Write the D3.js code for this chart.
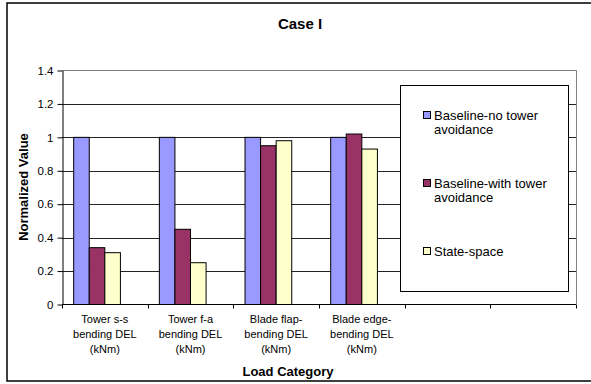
<!DOCTYPE html>
<html>
<head>
<meta charset="utf-8">
<script src="https://cdn.jsdelivr.net/npm/d3@7"></script>
<style>
  body { margin: 0; background: #fff; }
  svg { display: block; font-family: "Liberation Sans", Arial, sans-serif; }
</style>
</head>
<body>
<div id="chart"></div>
<script>
// Data
const categories = [
    ["Tower s-s", "bending DEL", "(kNm)"],
    ["Tower f-a", "bending DEL", "(kNm)"],
    ["Blade flap-", "bending DEL", "(kNm)"],
    ["Blade edge-", "bending DEL", "(kNm)"],
    [],
    []
];
const seriesNames = [
    ["Baseline-no tower", "avoidance"],
    ["Baseline-with tower", "avoidance"],
    ["State-space"]
];
const noAvoidance = [1, 1, 1, 1];
const withAvoidance = [0.34, 0.45, 0.95, 1.02];
const stateSpace = [0.31, 0.25, 0.98, 0.93];
const yTicks = [0, 0.2, 0.4, 0.6, 0.8, 1, 1.2, 1.4];

const seriesValues = [noAvoidance, withAvoidance, stateSpace];
const colors = ["#9999FF", "#993366", "#FFFFCC"];

const width = 591;
const height = 384;

const svg = d3.select("#chart")
    .append("svg")
    .attr("width", width)
    .attr("height", height);

// Chart border
svg.append("rect")
    .attr("x", 7).attr("y", 3)
    .attr("width", 600).attr("height", 378)
    .attr("fill", "#fff")
    .attr("stroke", "#000")
    .attr("stroke-width", 1.5);

// Scales
const catKeys = categories.map((c, i) => i);
const x0 = d3.scaleBand()
    .domain(catKeys)
    .range([62, 576]);

// 4 slots per category, last one left empty (as in the original)
const x1 = d3.scaleBand()
    .domain(d3.range(4))
    .range([0, x0.bandwidth()])
    .paddingOuter(0.75);

const y = d3.scaleLinear()
    .domain([0, 1.4])
    .range([304.5, 70.5]);

// Gridlines
svg.append("g")
    .selectAll("line")
    .data(yTicks.slice(1, -1))
    .enter()
    .append("line")
    .attr("x1", 62).attr("x2", 576)
    .attr("y1", d => Math.round(y(d)) + 0.5)
    .attr("y2", d => Math.round(y(d)) + 0.5)
    .attr("stroke", "#222")
    .attr("stroke-width", 1);

// Plot area border (top and right)
svg.append("path")
    .attr("d", `M62,${y(1.4)}H576.5V304`)
    .attr("fill", "none")
    .attr("stroke", "#808080")
    .attr("stroke-width", 1);

// Bars
const bars = [];
seriesValues.forEach((vals, s) => {
    vals.forEach((v, c) => bars.push({ s, c, v }));
});

svg.append("g")
    .selectAll("rect")
    .data(bars)
    .enter()
    .append("rect")
    .attr("x", d => x0(d.c) + x1(d.s))
    .attr("y", d => y(d.v))
    .attr("width", x1.bandwidth())
    .attr("height", d => y(0) - y(d.v))
    .attr("fill", d => colors[d.s])
    .attr("stroke", "#000")
    .attr("stroke-width", 1);

// Y axis
const yAxis = svg.append("g")
    .attr("transform", "translate(62.5,0)")
    .call(d3.axisLeft(y)
        .tickValues(yTicks)
        .tickFormat(d => String(d))
        .tickSize(5)
        .tickSizeOuter(0)
        .tickPadding(4));
yAxis.select(".domain").attr("stroke", "#000");
yAxis.selectAll(".tick line").attr("stroke", "#000");
yAxis.selectAll("text")
    .attr("fill", "#000")
    .style("font-size", "11.5px")
    .style("font-family", "Liberation Sans, Arial, sans-serif");

// X axis line and boundary ticks
svg.append("line")
    .attr("x1", 62).attr("x2", 576)
    .attr("y1", y(0)).attr("y2", y(0))
    .attr("stroke", "#000");

const bounds = catKeys.map(c => x0(c)).concat([x0.range()[1]]);
svg.append("g")
    .selectAll("line")
    .data(bounds)
    .enter()
    .append("line")
    .attr("x1", d => Math.round(d) + 0.5)
    .attr("x2", d => Math.round(d) + 0.5)
    .attr("y1", y(0))
    .attr("y2", y(0) + 4)
    .attr("stroke", "#000");

// Category labels
const catLabels = svg.append("g")
    .selectAll("text")
    .data(categories)
    .enter()
    .append("text")
    .attr("text-anchor", "middle")
    .style("font-size", "11px")
    .attr("fill", "#000");

catLabels.selectAll("tspan")
    .data((d, i) => d.map(line => ({ line, i })))
    .enter()
    .append("tspan")
    .attr("x", d => x0(d.i) + x0.bandwidth() / 2)
    .attr("y", (d, j) => 323 + j * 15)
    .text(d => d.line);

// Axis titles
svg.append("text")
    .attr("x", 288)
    .attr("y", 376)
    .attr("text-anchor", "middle")
    .style("font-size", "13px")
    .style("font-weight", "bold")
    .text("Load Category");

svg.append("text")
    .attr("transform", "translate(28,187) rotate(-90)")
    .attr("text-anchor", "middle")
    .style("font-size", "13px")
    .style("font-weight", "bold")
    .text("Normalized Value");

// Title
svg.append("text")
    .attr("x", 300)
    .attr("y", 29)
    .attr("text-anchor", "middle")
    .style("font-size", "15px")
    .style("font-weight", "bold")
    .text("Case I");

// Legend
const legend = svg.append("g");
legend.append("rect")
    .attr("x", 400.5).attr("y", 85.5)
    .attr("width", 168).attr("height", 206)
    .attr("fill", "#fff")
    .attr("stroke", "#000")
    .attr("stroke-width", 1);

const items = legend.selectAll("g.item")
    .data(seriesNames)
    .enter()
    .append("g")
    .attr("class", "item")
    .attr("transform", (d, i) => `translate(0,${i * 68})`);

items.append("rect")
    .attr("x", 423.5).attr("y", 111.5)
    .attr("width", 7).attr("height", 7)
    .attr("fill", (d, i) => colors[i])
    .attr("stroke", "#000");

items.append("text")
    .style("font-size", "13px")
    .attr("fill", "#000")
    .selectAll("tspan")
    .data(d => d)
    .enter()
    .append("tspan")
    .attr("x", 434)
    .attr("y", (d, j) => 119.5 + j * 14)
    .text(d => d);
</script>
</body>
</html>
